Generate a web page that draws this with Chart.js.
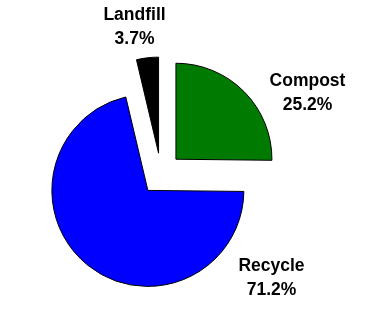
<!DOCTYPE html>
<html>
<head>
<meta charset="utf-8">
<script src="https://cdn.jsdelivr.net/npm/chart.js@4/dist/chart.umd.min.js"></script>
<style>
    html, body { margin: 0; padding: 0; background: #ffffff; }
    #wrap { width: 371px; height: 317px; position: relative; }
</style>
</head>
<body>
<div id="wrap"><canvas id="pieWaste"></canvas></div>
<script>
// data
var wasteLabels = ["Compost", "Recycle", "Landfill"];
var wasteShares = [25.2, 71.2, 3.7];
var wasteColors = ["#007a00", "#0000ff", "#000000"];

// where each label sits, relative to pie centre, in units of the radius
var labelPlace = [
    { dx: 1.526, dy: -0.839 },
    { dx: 1.151, dy: 1.083 },
    { dx: -0.276, dy: -1.531 }
];
var explodePx = 21;

/*pull every slice out from the centre by the same distance*/
var explodeSlices = {
    id: 'explodeSlices',
    beforeDatasetDraw: function (chart, args) {
        var ctx = chart.ctx;
        args.meta.data.forEach(function (arc) {
            var mid = (arc.startAngle + arc.endAngle) / 2;
            ctx.save();
            ctx.translate(Math.cos(mid) * explodePx, Math.sin(mid) * explodePx);
            arc.draw(ctx);
            ctx.restore();
        });
        return false;
    }
};

/*draw the name and percentage beside each slice*/
var sliceLabels = {
    id: 'sliceLabels',
    afterDatasetsDraw: function (chart) {
        var ctx = chart.ctx;
        var arcs = chart.getDatasetMeta(0).data;
        ctx.save();
        ctx.fillStyle = '#000000';
        ctx.font = 'bold 17.5px "Liberation Sans", Arial, sans-serif';
        ctx.textAlign = 'center';
        ctx.textBaseline = 'middle';
        arcs.forEach(function (arc, i) {
            var r = arc.outerRadius;
            var cx = arc.x + labelPlace[i].dx * r;
            var cy = arc.y + labelPlace[i].dy * r;
            ctx.fillText(wasteLabels[i], cx, cy - 12);
            ctx.fillText(wasteShares[i].toFixed(1) + '%', cx, cy + 12);
        });
        ctx.restore();
    }
};

var chartDiv = document.getElementById("pieWaste");
var myChart = new Chart(chartDiv, {
    type: 'pie',
    data: {
        labels: wasteLabels,
        datasets: [{
            data: wasteShares,
            backgroundColor: wasteColors,
            borderColor: '#000000',
            borderWidth: 1
        }]
    },
    options: {
        responsive: true,
        maintainAspectRatio: false,
        animation: false,
        radius: 96,
        layout: {
            padding: { left: 0, right: 49, top: 31, bottom: 0 }
        },
        plugins: {
            legend: { display: false },
            tooltip: { enabled: false }
        }
    },
    plugins: [explodeSlices, sliceLabels]
});
</script>
</body>
</html>
